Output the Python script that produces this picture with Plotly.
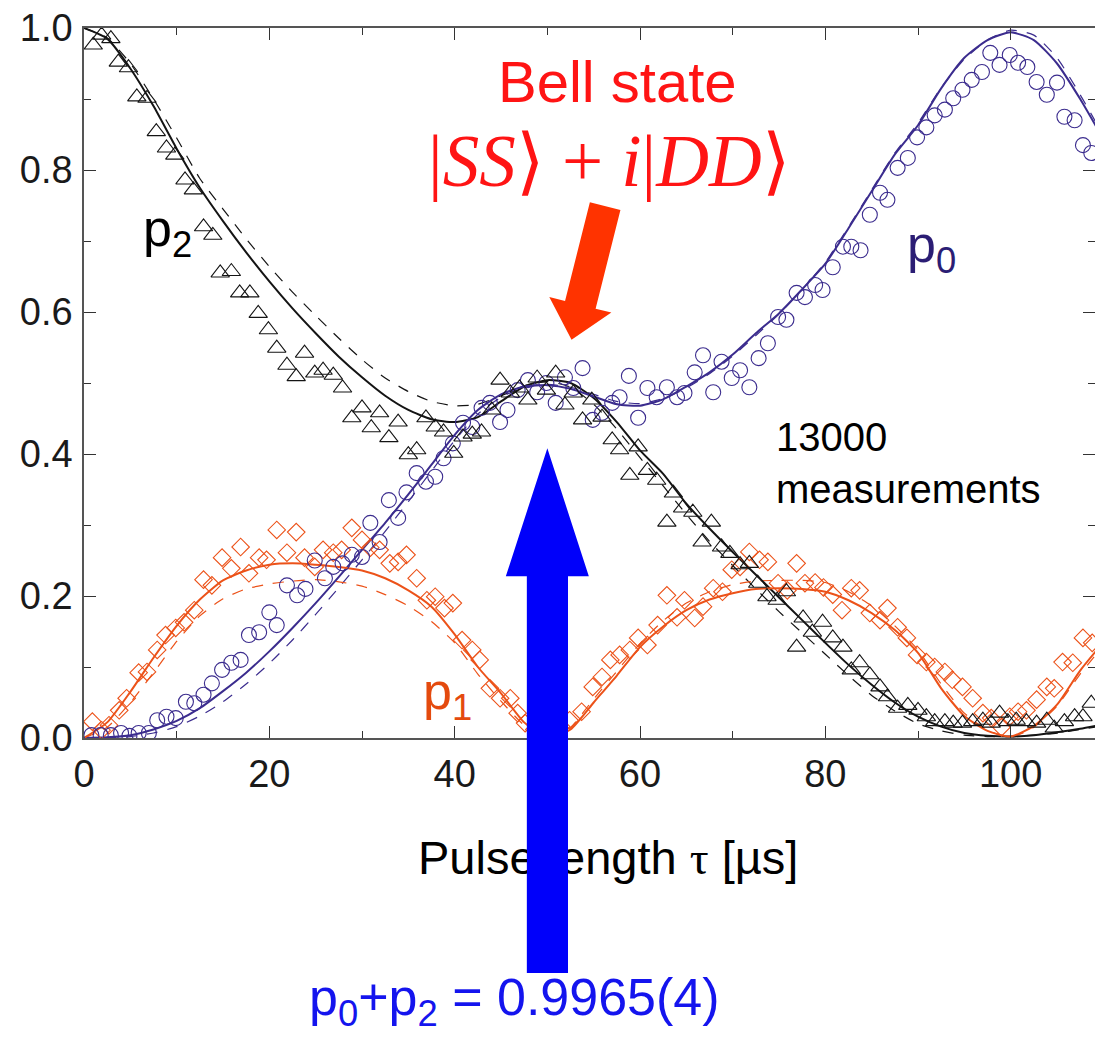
import math
import plotly.graph_objects as go

# ---------------- measured populations vs pulse length (µs) ----------------
tau_p2 = [1.0, 1.9, 2.9, 3.7, 4.8, 5.7, 6.8, 7.8, 8.9, 9.8,
          10.9, 11.8, 12.9, 13.9, 14.7, 15.9, 16.8, 17.9, 18.8, 19.9,
          20.8, 21.9, 22.9, 23.8, 24.9, 25.8, 26.9, 27.9, 28.9, 30.0,
          31.0, 31.9, 32.9, 33.9, 35.0, 35.9, 36.9, 37.9, 38.8, 39.9,
          40.9, 41.9, 42.9, 44.0, 44.9, 46.0, 47.0, 47.9, 48.9, 49.9,
          50.9, 51.9, 52.8, 53.8, 54.8, 55.9, 57.0, 57.8, 58.9, 59.8,
          60.8, 61.8, 62.9, 63.6, 64.6, 65.7, 66.7, 67.7, 68.8, 69.7,
          70.8, 71.8, 72.7, 73.7, 74.8, 75.8, 76.9, 77.6, 78.6, 79.7,
          80.8, 81.9, 82.8, 83.7, 84.8, 85.9, 86.7, 87.8, 88.9, 90.0,
          90.9, 91.8, 92.9, 93.8, 94.8, 95.9, 97.0, 97.9, 98.8, 99.7,
          100.6, 101.7, 102.8, 103.9, 104.7, 105.8, 106.9, 107.8, 108.7]
p2_meas = [0.976, 0.990, 0.985, 0.952, 0.944, 0.903, 0.901, 0.854, 0.831, 0.821,
           0.786, 0.772, 0.720, 0.708, 0.655, 0.657, 0.627, 0.627, 0.598, 0.575,
           0.549, 0.525, 0.509, 0.542, 0.514, 0.518, 0.511, 0.493, 0.451, 0.465,
           0.437, 0.458, 0.423, 0.445, 0.399, 0.406, 0.451, 0.438, 0.431, 0.401,
           0.424, 0.428, 0.431, 0.462, 0.504, 0.486, 0.493, 0.476, 0.507, 0.490,
           0.514, 0.469, 0.486, 0.448, 0.476, 0.452, 0.420, 0.406, 0.370, 0.410,
           0.377, 0.363, 0.304, 0.345, 0.324, 0.318, 0.276, 0.304, 0.269, 0.260,
           0.244, 0.246, 0.218, 0.199, 0.194, 0.206, 0.128, 0.169, 0.149, 0.163,
           0.141, 0.128, 0.096, 0.106, 0.089, 0.072, 0.058, 0.042, 0.046, 0.039,
           0.030, 0.023, 0.023, 0.021, 0.021, 0.023, 0.025, 0.021, 0.035, 0.023,
           0.025, 0.023, 0.021, 0.025, 0.014, 0.023, 0.030, 0.030, 0.049]

tau_p0 = [0.8, 1.8, 2.9, 4.0, 4.9, 5.9, 7.0, 7.9, 8.9, 9.9,
          11.0, 11.9, 12.9, 13.8, 14.9, 15.9, 16.9, 17.8, 18.9, 20.0,
          20.8, 21.9, 23.0, 23.9, 24.9, 26.0, 26.9, 27.9, 28.9, 30.0,
          30.9, 31.9, 32.9, 33.9, 34.8, 35.9, 36.9, 37.9, 38.8, 39.8,
          40.9, 41.9, 42.9, 43.8, 44.9, 45.7, 46.8, 47.9, 48.9, 49.9,
          50.9, 51.9, 52.8, 53.8, 54.9, 55.9, 57.0, 57.8, 58.8, 59.8,
          60.8, 61.8, 62.9, 64.0, 64.8, 65.9, 66.8, 67.9, 68.8, 69.9,
          70.8, 71.8, 72.8, 73.8, 74.9, 75.8, 76.9, 77.8, 78.9, 79.7,
          80.8, 81.9, 82.8, 83.8, 84.8, 85.9, 86.7, 87.8, 88.9, 89.9,
          90.9, 91.8, 92.9, 93.8, 94.8, 95.8, 96.9, 97.8, 98.8, 99.9,
          100.8, 101.8, 102.8, 103.9, 105.0, 105.8, 106.9, 107.8, 108.7]
p0_meas = [0.004, 0.004, 0.004, 0.007, 0.003, 0.007, 0.007, 0.025, 0.030, 0.028,
           0.051, 0.049, 0.061, 0.077, 0.096, 0.106, 0.110, 0.145, 0.149, 0.177,
           0.159, 0.215, 0.201, 0.210, 0.250, 0.225, 0.241, 0.246, 0.258, 0.255,
           0.303, 0.276, 0.335, 0.310, 0.346, 0.373, 0.361, 0.368, 0.394, 0.415,
           0.444, 0.438, 0.465, 0.472, 0.445, 0.462, 0.490, 0.504, 0.487, 0.500,
           0.472, 0.508, 0.493, 0.521, 0.448, 0.458, 0.472, 0.480, 0.510, 0.451,
           0.493, 0.480, 0.494, 0.480, 0.486, 0.515, 0.539, 0.487, 0.530, 0.507,
           0.518, 0.494, 0.535, 0.556, 0.593, 0.589, 0.627, 0.621, 0.638, 0.631,
           0.663, 0.692, 0.692, 0.687, 0.737, 0.768, 0.758, 0.803, 0.817, 0.846,
           0.860, 0.877, 0.885, 0.901, 0.913, 0.927, 0.938, 0.965, 0.948, 0.962,
           0.951, 0.945, 0.924, 0.906, 0.923, 0.875, 0.870, 0.835, 0.824]

tau_p1 = [0.9, 1.9, 2.7, 3.8, 4.6, 5.9, 6.8, 7.9, 8.8, 9.9,
          10.8, 11.9, 12.9, 13.8, 14.9, 15.9, 16.9, 17.8, 18.9, 19.7,
          20.8, 21.9, 22.9, 23.8, 24.9, 25.8, 26.9, 27.8, 28.9, 30.0,
          30.9, 31.9, 33.0, 33.9, 34.8, 35.9, 37.0, 37.9, 38.9, 39.8,
          40.8, 41.9, 42.7, 43.8, 44.9, 46.0, 46.8, 47.6, 48.6, 49.6,
          50.6, 51.5, 52.4, 53.7, 54.9, 55.9, 56.8, 57.8, 58.9, 59.8,
          60.8, 61.9, 62.9, 64.0, 64.8, 65.9, 66.8, 67.9, 68.9, 69.9,
          70.8, 71.8, 72.9, 73.8, 74.9, 75.9, 76.9, 77.8, 78.9, 79.8,
          80.8, 81.8, 82.8, 83.7, 84.8, 85.9, 86.7, 87.8, 88.8, 89.9,
          90.9, 91.8, 92.9, 93.7, 94.8, 95.9, 97.0, 97.9, 99.0, 99.9,
          100.8, 101.7, 102.8, 103.9, 104.7, 105.6, 106.7, 107.8, 108.8]
p1_meas = [0.023, 0.011, 0.018, 0.039, 0.056, 0.092, 0.093, 0.124, 0.145, 0.155,
           0.163, 0.180, 0.223, 0.215, 0.254, 0.239, 0.269, 0.232, 0.254, 0.251,
           0.293, 0.261, 0.290, 0.254, 0.241, 0.265, 0.261, 0.265, 0.296, 0.279,
           0.268, 0.265, 0.246, 0.248, 0.258, 0.225, 0.194, 0.199, 0.183, 0.190,
           0.138, 0.124, 0.110, 0.070, 0.056, 0.056, 0.035, 0.021, 0.012, 0.006,
           0.010, 0.016, 0.025, 0.037, 0.072, 0.086, 0.110, 0.117, 0.124, 0.141,
           0.131, 0.159, 0.201, 0.170, 0.194, 0.169, 0.185, 0.211, 0.206, 0.237,
           0.241, 0.262, 0.251, 0.248, 0.218, 0.208, 0.246, 0.218, 0.219, 0.212,
           0.202, 0.180, 0.211, 0.208, 0.176, 0.166, 0.183, 0.156, 0.141, 0.117,
           0.107, 0.100, 0.093, 0.082, 0.072, 0.056, 0.035, 0.028, 0.015, 0.030,
           0.037, 0.039, 0.054, 0.072, 0.070, 0.107, 0.106, 0.141, 0.134]

# ---------------- fitted model curves (solid: full model, dashed: simplified) --
tau_fit = [0, 2.5, 5, 7.5, 10, 12.5, 15, 17.5, 20, 22.5,
           25, 27.5, 30, 32.5, 35, 37.5, 40, 42.5, 45, 47.5,
           50, 52.5, 55, 57.5, 60, 62.5, 65, 67.5, 70, 72.5,
           75, 77.5, 80, 82.5, 85, 87.5, 90, 92.5, 95, 97.5,
           100, 102.5, 105, 107.5, 109.5]
p2_fit = [1.000, 0.985, 0.943, 0.890, 0.830, 0.775, 0.728, 0.684, 0.643, 0.605,
          0.570, 0.537, 0.508, 0.482, 0.462, 0.449, 0.445, 0.452, 0.474, 0.495,
          0.504, 0.500, 0.479, 0.445, 0.405, 0.372, 0.330, 0.295, 0.262, 0.230,
          0.198, 0.166, 0.134, 0.103, 0.075, 0.050, 0.030, 0.016, 0.007, 0.003,
          0.002, 0.004, 0.008, 0.013, 0.018]
p2_fit_alt = [1.000, 0.986, 0.950, 0.900, 0.845, 0.788, 0.745, 0.703, 0.664, 0.628,
              0.595, 0.563, 0.533, 0.507, 0.488, 0.474, 0.468, 0.470, 0.482, 0.496,
              0.502, 0.494, 0.470, 0.435, 0.395, 0.355, 0.315, 0.277, 0.243, 0.210,
              0.178, 0.148, 0.118, 0.088, 0.060, 0.038, 0.020, 0.010, 0.004, 0.002,
              0.002, 0.004, 0.007, 0.012, 0.016]
p0_fit = [0.000, 0.001, 0.004, 0.012, 0.024, 0.042, 0.066, 0.092, 0.122, 0.155,
          0.190, 0.227, 0.265, 0.303, 0.343, 0.385, 0.427, 0.462, 0.484, 0.495,
          0.497, 0.492, 0.481, 0.470, 0.468, 0.477, 0.495, 0.515, 0.540, 0.570,
          0.598, 0.632, 0.668, 0.718, 0.770, 0.822, 0.863, 0.915, 0.958, 0.983,
          0.994, 0.983, 0.950, 0.900, 0.855]
p0_fit_alt = [0.000, 0.000, 0.002, 0.007, 0.016, 0.031, 0.051, 0.076, 0.105, 0.138,
              0.174, 0.212, 0.251, 0.291, 0.333, 0.376, 0.419, 0.456, 0.480, 0.494,
              0.498, 0.494, 0.484, 0.474, 0.471, 0.478, 0.493, 0.513, 0.538, 0.567,
              0.597, 0.632, 0.670, 0.720, 0.772, 0.824, 0.866, 0.916, 0.956, 0.983,
              0.997, 0.990, 0.958, 0.906, 0.860]
p1_fit = [0.000, 0.022, 0.065, 0.113, 0.158, 0.195, 0.222, 0.236, 0.244, 0.246,
          0.244, 0.241, 0.236, 0.225, 0.208, 0.185, 0.146, 0.100, 0.063, 0.022,
          0.000, 0.012, 0.050, 0.088, 0.128, 0.157, 0.180, 0.195, 0.204, 0.210,
          0.211, 0.210, 0.206, 0.194, 0.176, 0.152, 0.120, 0.070, 0.031, 0.010,
          0.002, 0.017, 0.047, 0.095, 0.127]
p1_fit_alt = [0.000, 0.015, 0.050, 0.092, 0.136, 0.172, 0.196, 0.210, 0.217, 0.221,
              0.223, 0.220, 0.214, 0.202, 0.186, 0.164, 0.134, 0.090, 0.052, 0.018,
              0.000, 0.015, 0.055, 0.094, 0.133, 0.165, 0.190, 0.206, 0.216, 0.221,
              0.222, 0.222, 0.219, 0.206, 0.186, 0.158, 0.124, 0.076, 0.035, 0.011,
              0.001, 0.015, 0.045, 0.090, 0.122]

x_tick_vals = [0, 20, 40, 60, 80, 100]
y_tick_vals = [0.0, 0.2, 0.4, 0.6, 0.8, 1.0]

# ---------------- geometry & style ----------------
W, H = 1095, 1038
M_L, M_R, M_T, M_B = 84, 0, 28, 300
X_MAX = 109.1
PLOT_W = W - M_L - M_R
PLOT_H = H - M_T - M_B
KX = PLOT_W / X_MAX      # screen px per µs
KY = PLOT_H / 1.0        # screen px per unit of probability

BLACK = "#141414"
NAVY = "#3b2c8e"
ORANGE = "#ec5219"
ARROW_BLUE = "#0000fa"
FONT = "Liberation Sans, Arial, sans-serif"
SERIF = "Liberation Serif, Times New Roman, serif"

# block arrows: (tail, tip) in data units, widths in screen px
BELL_TAIL, BELL_TIP = (56.24, 0.749), (52.61, 0.561)
SUM_TAIL, SUM_TIP = (50.0, -0.331), (50.0, 0.408)
SUM_SHAFT_W, SUM_HEAD_W, SUM_HEAD_LEN = 41, 83, 128


def arrow_path(tail, tip, shaft_w, head_w, head_len):
    """Block arrow from tail to tip; path returned in paper coordinates."""
    x0, y0 = tail[0] * KX, tail[1] * KY
    x1, y1 = tip[0] * KX, tip[1] * KY
    dx, dy = x1 - x0, y1 - y0
    length = math.hypot(dx, dy)
    ux, uy = dx / length, dy / length
    nx, ny = -uy, ux
    bx, by = x1 - ux * head_len, y1 - uy * head_len
    s, h = shaft_w / 2, head_w / 2
    pts = [(x0 + nx * s, y0 + ny * s), (bx + nx * s, by + ny * s),
           (bx + nx * h, by + ny * h), (x1, y1),
           (bx - nx * h, by - ny * h), (bx - nx * s, by - ny * s),
           (x0 - nx * s, y0 - ny * s)]
    return "M " + " L ".join(f"{px / PLOT_W:.5f},{py / PLOT_H:.5f}" for px, py in pts) + " Z"


fig = go.Figure()

# fit curves
for ys, color in [(p2_fit_alt, BLACK), (p0_fit_alt, NAVY), (p1_fit_alt, ORANGE)]:
    fig.add_trace(go.Scatter(x=tau_fit, y=ys, mode="lines",
                             line=dict(color=color, width=1.2, dash="11px,10px", shape="spline", smoothing=0.6),
                             hoverinfo="skip", showlegend=False))
for ys, color in [(p2_fit, BLACK), (p0_fit, NAVY), (p1_fit, ORANGE)]:
    fig.add_trace(go.Scatter(x=tau_fit, y=ys, mode="lines",
                             line=dict(color=color, width=2.0, shape="spline", smoothing=0.6),
                             hoverinfo="skip", showlegend=False))

# measured points
fig.add_trace(go.Scatter(x=tau_p1, y=p1_meas, mode="markers",
                         marker=dict(symbol="diamond-open", size=13.5, color=ORANGE, line=dict(width=1.1)),
                         showlegend=False))
fig.add_trace(go.Scatter(x=tau_p0, y=p0_meas, mode="markers",
                         marker=dict(symbol="circle-open", size=15, color=NAVY, line=dict(width=1.1)),
                         showlegend=False))
fig.add_trace(go.Scatter(x=tau_p2, y=p2_meas, mode="markers",
                         marker=dict(symbol="triangle-up-open", size=16, color=BLACK, line=dict(width=1.1)),
                         showlegend=False))

# block arrows
fig.add_shape(type="path", xref="paper", yref="paper", layer="above",
              path=arrow_path(BELL_TAIL, BELL_TIP, 31.5, 64, 36),
              fillcolor="#ff3300", line=dict(width=0))
fig.add_shape(type="path", xref="paper", yref="paper", layer="above",
              path=arrow_path(SUM_TAIL, SUM_TIP, SUM_SHAFT_W, SUM_HEAD_W, SUM_HEAD_LEN),
              fillcolor=ARROW_BLUE, line=dict(width=0))

# axis title, placed as text so the blue shaft can be laid over it
fig.add_annotation(x=56.5 / X_MAX, y=-0.169, xref="paper", yref="paper",
                   text="Pulse length <span style='font-family:Liberation Serif'>τ</span> [µs]",
                   showarrow=False, xanchor="center", yanchor="middle",
                   font=dict(family=FONT, size=47, color="black"))
# blue shaft segment that passes over the axis title
shaft_top = SUM_TIP[1] - SUM_HEAD_LEN / KY
fig.add_annotation(x=SUM_TAIL[0] / X_MAX, y=(shaft_top + SUM_TAIL[1]) / 2, xref="paper", yref="paper",
                   text=" ", showarrow=False, xanchor="center", yanchor="middle",
                   width=SUM_SHAFT_W, height=(shaft_top - SUM_TAIL[1]) * KY,
                   bgcolor=ARROW_BLUE, borderpad=0, borderwidth=0,
                   font=dict(size=2))

ann = [
    dict(x=6.1, y=0.712, text="p<sub>2</sub>", color="black", size=52),
    dict(x=88.6, y=0.69, text="p<sub>0</sub>", color="#2b1d74", size=52),
    dict(x=36.4, y=0.061, text="p<sub>1</sub>", color="#e44a0e", size=52),
]
for a in ann:
    fig.add_annotation(x=a["x"], y=a["y"], xref="x", yref="y", text=a["text"], showarrow=False,
                       xanchor="left", yanchor="middle",
                       font=dict(family=FONT, size=a["size"], color=a["color"]))

fig.add_annotation(x=74.5, y=0.458, xref="x", yref="y", text="13000<br>measurements",
                   showarrow=False, xanchor="left", yanchor="top", align="left",
                   font=dict(family=FONT, size=40, color="black"))
fig.add_annotation(x=57.6, y=0.924, xref="x", yref="y", text="Bell state",
                   showarrow=False, xanchor="center", yanchor="middle",
                   font=dict(family=FONT, size=58, color="#ff1414"))
fig.add_annotation(x=56.6, y=0.812, xref="x", yref="y",
                   text="|<i>SS</i>⟩ + <i>i</i>|<i>DD</i>⟩",
                   showarrow=False, xanchor="center", yanchor="middle",
                   font=dict(family=SERIF, size=73, color="#ff1414"))
fig.add_annotation(x=24.06 / X_MAX, y=-0.371, xref="paper", yref="paper",
                   text="p<sub>0</sub>+p<sub>2</sub> = 0.9965(4)",
                   showarrow=False, xanchor="left", yanchor="middle",
                   font=dict(family=FONT, size=52, color="#1414ee"))

axis_common = dict(showline=True, linecolor="#555555", linewidth=1.5, mirror="ticks",
                   ticks="inside", ticklen=12, tickwidth=1.2, tickcolor="#333333",
                   showgrid=False, zeroline=False,
                   tickfont=dict(family=FONT, size=38, color="#1a1a1a"))
fig.update_xaxes(range=[0, X_MAX], tickvals=x_tick_vals, ticktext=[str(v) for v in x_tick_vals],
                 minor=dict(dtick=10, tick0=0, ticks="inside", ticklen=7, tickcolor="#333333"),
                 ticklabelstandoff=2, **axis_common)
fig.update_yaxes(range=[0, 1.0], tickvals=y_tick_vals, ticktext=[f"{v:.1f}" for v in y_tick_vals],
                 minor=dict(dtick=0.1, tick0=0, ticks="inside", ticklen=7, tickcolor="#333333"),
                 ticklabelstandoff=2, **axis_common)

fig.update_layout(width=W, height=H, margin=dict(l=M_L, r=M_R, t=M_T, b=M_B),
                  paper_bgcolor="white", plot_bgcolor="white", template="none",
                  showlegend=False, hovermode=False)

fig.write_html("out.html")
